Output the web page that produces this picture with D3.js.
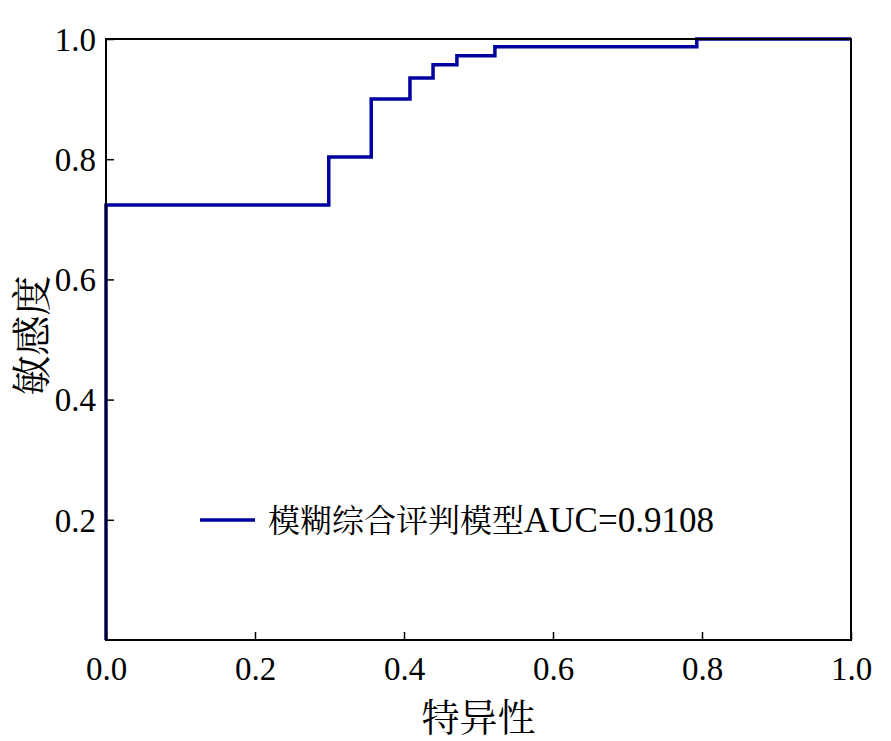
<!DOCTYPE html>
<html lang="zh">
<head>
<meta charset="UTF-8">
<title>ROC</title>
<script src="https://cdn.jsdelivr.net/npm/d3@7/dist/d3.min.js"></script>
<style>
  body { margin: 0; background: #fff; }
  .tick text { font-family: "Liberation Serif", "Times New Roman", serif; font-size: 33px; fill: #000; }
  .roc { fill: none; stroke: #0000a0; stroke-width: 3.5px; }
</style>
</head>
<body>
<script>
// ROC step curve (x labelled 特异性, sensitivity on y)
var fpr = [0, 0, 0.299, 0.299, 0.356, 0.356, 0.408, 0.408, 0.439, 0.439, 0.471, 0.471, 0.522, 0.522, 0.793, 0.793, 1.0];
var tpr = [0, 0.7237, 0.7237, 0.8037, 0.8037, 0.900, 0.900, 0.935, 0.935, 0.957, 0.957, 0.972, 0.972, 0.987, 0.987, 1.0, 1.0];
var xTicks = [0, 0.2, 0.4, 0.6, 0.8, 1.0];
var yTicks = [0.2, 0.4, 0.6, 0.8, 1.0];
var legendName = "模糊综合评判模型", legendAuc = "AUC=0.9108";
var xLabel = "特异性", yLabel = "敏感度";

var W = 891, H = 741;
var margin = {top: 39, right: 40, bottom: 101, left: 106},
    width = 851 - margin.left,
    height = 640 - margin.top;

var svg = d3.select("body").append("svg")
    .attr("width", W).attr("height", H);
var g = svg.append("g")
    .attr("transform", "translate(" + margin.left + "," + margin.top + ")");

var x = d3.scaleLinear().domain([0, 1]).range([0, width]);
var y = d3.scaleLinear().domain([0, 1]).range([height, 0]);

var pts = fpr.map(function(d, i) { return [d, tpr[i]]; });

var line = d3.line()
    .x(function(d) { return x(d[0]); })
    .y(function(d) { return y(d[1]); });

g.append("path")
    .datum(pts)
    .attr("class", "roc")
    .attr("d", line);

// axes with inward ticks
var xAxis = g.append("g")
    .attr("transform", "translate(0," + height + ")")
    .call(d3.axisBottom(x).tickValues(xTicks).tickFormat(d3.format(".1f"))
        .tickSizeInner(-8).tickSizeOuter(0).tickPadding(17));
var yAxis = g.append("g")
    .call(d3.axisLeft(y).tickValues(yTicks).tickFormat(d3.format(".1f"))
        .tickSizeInner(-8).tickSizeOuter(0).tickPadding(10));
[xAxis, yAxis].forEach(function(a) {
  a.select(".domain").remove();
  a.selectAll(".tick line").attr("stroke", "#000").attr("stroke-width", 1.5);
});
xAxis.selectAll(".tick text").attr("dy", "0.71em");
yAxis.selectAll(".tick text").attr("dy", "0.34em");

// frame
g.append("rect")
    .attr("width", width).attr("height", height)
    .attr("fill", "none").attr("stroke", "#000").attr("stroke-width", 2);

// axis labels
svg.append("text")
    .attr("x", margin.left + width / 2).attr("y", 714)
    .attr("text-anchor", "middle")
    .attr("dominant-baseline", "central")
    .style("font-family", "'Noto Serif CJK SC', 'Noto Sans CJK SC', serif")
    .style("font-size", "38px")
    .text(xLabel);

svg.append("text")
    .attr("transform", "translate(28," + (margin.top + height / 2 - 4) + ") rotate(-90)")
    .attr("text-anchor", "middle")
    .attr("dominant-baseline", "central")
    .style("font-family", "'Noto Serif CJK SC', 'Noto Sans CJK SC', serif")
    .style("font-size", "40px")
    .text(yLabel);

// legend
var leg = g.append("g").attr("transform", "translate(" + (200 - margin.left) + "," + (520 - margin.top) + ")");
leg.append("line")
    .attr("x1", 0).attr("x2", 55).attr("y1", 0).attr("y2", 0)
    .attr("stroke", "#0000a0").attr("stroke-width", 3.5);
var lt = leg.append("text")
    .attr("x", 68).attr("y", 12)
    .style("font-family", "'Liberation Serif', 'Noto Serif CJK SC', 'Noto Sans CJK SC', serif");
lt.append("tspan").style("font-size", "32px").text(legendName);
lt.append("tspan").style("font-size", "35px").text(legendAuc);
</script>
</body>
</html>
